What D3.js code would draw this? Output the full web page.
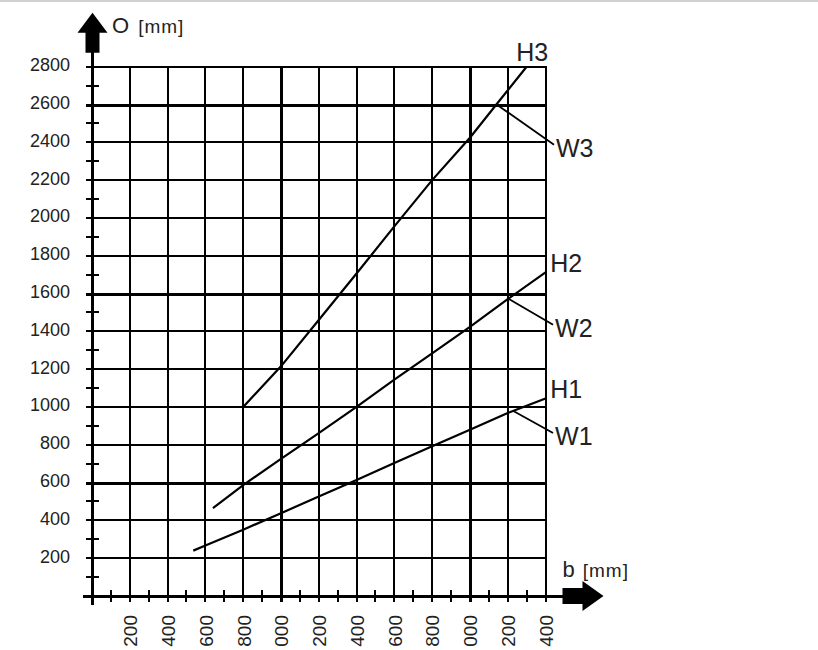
<!DOCTYPE html>
<html>
<head>
<meta charset="utf-8">
<script src="https://cdn.jsdelivr.net/npm/d3@7"></script>
<style>
  body { margin: 0; background: #fff; }
  text { font-family: "Liberation Sans", Arial, sans-serif; fill: #222; }
</style>
</head>
<body>
<div id="chart"></div>
<script>
/* Values */
var yTicks = [200, 400, 600, 800, 1000, 1200, 1400, 1600, 1800, 2000, 2200, 2400, 2600, 2800];
var xTicks = [200, 400, 600, 800, 1000, 1200, 1400, 1600, 1800, 2000, 2200, 2400];
var xTickLabels = ["200", "400", "600", "800", "000", "200", "400", "600", "800", "000", "200", "400"];
var xMinor = [100, 300, 500, 700, 900, 1100, 1300, 1500, 1700, 1900, 2100, 2300];
var yMinor = [100, 300, 500, 700, 900, 1100, 1300, 1500, 1700, 1900, 2100, 2300, 2500, 2700];
var yBold = [600, 1600, 2600];
var xBold = [1000, 2000];

var h1 = [[536, 240], [600, 267], [800, 351], [1000, 438], [1200, 526], [1400, 614],
          [1600, 703], [1800, 792], [2000, 880], [2200, 968], [2400, 1045]];
var h2 = [[640, 465], [800, 587], [1000, 725], [1200, 862], [1400, 1000], [1600, 1145],
          [1800, 1283], [2000, 1424], [2200, 1570], [2400, 1712]];
var h3 = [[800, 1000], [1000, 1215], [1200, 1460], [1400, 1706], [1600, 1955],
          [1800, 2200], [2000, 2424], [2140, 2600], [2300, 2800]];

/* leader lines: point on curve -> label */
var leaders = [
  {name: "W1", from: [2230, 979], to: [2440, 862]},
  {name: "W2", from: [2204, 1572], to: [2440, 1435]},
  {name: "W3", from: [2143, 2599], to: [2445, 2387]}
];
var curveLabels = [
  {name: "H1", at: [2425, 1050]},
  {name: "H2", at: [2425, 1715]},
  {name: "H3", at: [2245, 2830]}
];

var width = 818, height = 650;

var svg = d3.select("#chart").append("svg")
    .attr("width", width).attr("height", height);

var x = d3.scaleLinear().domain([0, 2400]).range([92, 545.5]);
var y = d3.scaleLinear().domain([0, 2800]).range([596, 66.7]);

/* thin grey rule at the very top */
svg.append("line")
    .attr("x1", 0).attr("x2", width).attr("y1", 1).attr("y2", 1)
    .attr("stroke", "#d0d0d0").attr("stroke-width", 2);

var grid = svg.append("g").attr("shape-rendering", "crispEdges");

/* horizontal grid lines, extended a little left of the axis */
grid.selectAll(".hline")
  .data(yTicks)
  .enter().append("line")
    .attr("x1", x(0) - 6)
    .attr("x2", x(2400))
    .attr("y1", function(d) { return Math.round(y(d)); })
    .attr("y2", function(d) { return Math.round(y(d)); })
    .attr("stroke", "#000")
    .attr("stroke-width", function(d) { return yBold.indexOf(d) >= 0 ? 3 : 2; });

/* vertical grid lines, extended a little below the axis */
grid.selectAll(".vline")
  .data(xTicks)
  .enter().append("line")
    .attr("x1", function(d) { return Math.round(x(d)); })
    .attr("x2", function(d) { return Math.round(x(d)); })
    .attr("y1", y(2800) - 1)
    .attr("y2", y(0) + 6)
    .attr("stroke", "#000")
    .attr("stroke-width", function(d) { return xBold.indexOf(d) >= 0 ? 3 : 2; });

/* minor ticks */
grid.selectAll(".xminor")
  .data(xMinor)
  .enter().append("line")
    .attr("x1", function(d) { return Math.round(x(d)); })
    .attr("x2", function(d) { return Math.round(x(d)); })
    .attr("y1", y(0) - 6)
    .attr("y2", y(0) + 6)
    .attr("stroke", "#000")
    .attr("stroke-width", 2);

grid.selectAll(".yminor")
  .data(yMinor)
  .enter().append("line")
    .attr("x1", x(0) - 6)
    .attr("x2", x(0) + 7)
    .attr("y1", function(d) { return Math.round(y(d)); })
    .attr("y2", function(d) { return Math.round(y(d)); })
    .attr("stroke", "#000")
    .attr("stroke-width", 2);

/* axis lines */
grid.append("line")
    .attr("x1", x(0) - 9).attr("x2", x(2400) + 18)
    .attr("y1", y(0)).attr("y2", y(0))
    .attr("stroke", "#000").attr("stroke-width", 3);
grid.append("line")
    .attr("x1", x(0)).attr("x2", x(0))
    .attr("y1", y(2800) - 15).attr("y2", y(0) + 9)
    .attr("stroke", "#000").attr("stroke-width", 3);

/* arrows */
var ax = x(0) + 0.5, ay = y(2800);
svg.append("path")
    .attr("d", "M" + ax + "," + (ay - 54) +
               "L" + (ax + 15) + "," + (ay - 34) +
               "L" + (ax + 7) + "," + (ay - 34) +
               "L" + (ax + 7) + "," + (ay - 14) +
               "L" + (ax - 7) + "," + (ay - 14) +
               "L" + (ax - 7) + "," + (ay - 34) +
               "L" + (ax - 15) + "," + (ay - 34) + "Z")
    .attr("fill", "#000");

var bx = x(2400), by = y(0);
svg.append("path")
    .attr("d", "M" + (bx + 58) + "," + by +
               "L" + (bx + 37) + "," + (by - 15) +
               "L" + (bx + 37) + "," + (by - 8) +
               "L" + (bx + 17) + "," + (by - 8) +
               "L" + (bx + 17) + "," + (by + 8) +
               "L" + (bx + 37) + "," + (by + 8) +
               "L" + (bx + 37) + "," + (by + 15) + "Z")
    .attr("fill", "#000");

/* tick labels */
var yAxis = svg.append("g")
    .attr("transform", "translate(" + x(0) + ",0)")
    .call(d3.axisLeft(y).tickValues(yTicks).tickSize(0).tickPadding(22)
      .tickFormat(d3.format("d")));
yAxis.attr("font-size", null).attr("font-family", null);
yAxis.select(".domain").remove();
yAxis.selectAll("text")
    .attr("dy", "0.22em")
    .style("font-size", "18px")
    .attr("fill", "#222");

var xAxis = svg.append("g")
    .attr("transform", "translate(0," + y(0) + ")")
    .call(d3.axisBottom(x).tickValues(xTicks).tickSize(0)
      .tickFormat(function(d, i) { return xTickLabels[i]; }));
xAxis.attr("font-size", null).attr("font-family", null);
xAxis.select(".domain").remove();
xAxis.selectAll("text")
    .attr("transform", "rotate(-90)")
    .attr("x", -19)
    .attr("y", 0)
    .attr("dy", "0.36em")
    .style("text-anchor", "end")
    .style("font-size", "19px")
    .attr("fill", "#222");

/* axis titles */
var t1 = svg.append("text").attr("x", x(0) + 20).attr("y", y(2800) - 34);
t1.append("tspan").style("font-size", "22px").text("O");
t1.append("tspan").attr("dx", 9).style("font-size", "19px").style("letter-spacing", "1px").text("[mm]");

var t2 = svg.append("text").attr("x", x(2400) + 17).attr("y", y(0) - 19);
t2.append("tspan").style("font-size", "22px").text("b");
t2.append("tspan").attr("dx", 8).style("font-size", "19px").style("letter-spacing", "1px").text("[mm]");

/* curves */
var line = d3.line()
    .x(function(d) { return x(d[0]); })
    .y(function(d) { return y(d[1]); });

svg.selectAll(".curve")
  .data([h1, h2, h3])
  .enter().append("path")
    .attr("d", line)
    .attr("fill", "none")
    .attr("stroke", "#000")
    .attr("stroke-width", 2.2);

svg.selectAll(".leader")
  .data(leaders)
  .enter().append("line")
    .attr("x1", function(d) { return x(d.from[0]); })
    .attr("y1", function(d) { return y(d.from[1]); })
    .attr("x2", function(d) { return x(d.to[0]); })
    .attr("y2", function(d) { return y(d.to[1]); })
    .attr("stroke", "#000")
    .attr("stroke-width", 1.8);

svg.selectAll(".wlabel")
  .data(leaders)
  .enter().append("text")
    .attr("x", function(d) { return x(d.to[0]) + 2; })
    .attr("y", function(d) { return y(d.to[1]) + 12; })
    .style("font-size", "25px")
    .text(function(d) { return d.name; });

svg.selectAll(".hlabel")
  .data(curveLabels)
  .enter().append("text")
    .attr("x", function(d) { return x(d.at[0]); })
    .attr("y", function(d) { return y(d.at[1]); })
    .style("font-size", "25px")
    .text(function(d) { return d.name; });
</script>
</body>
</html>
